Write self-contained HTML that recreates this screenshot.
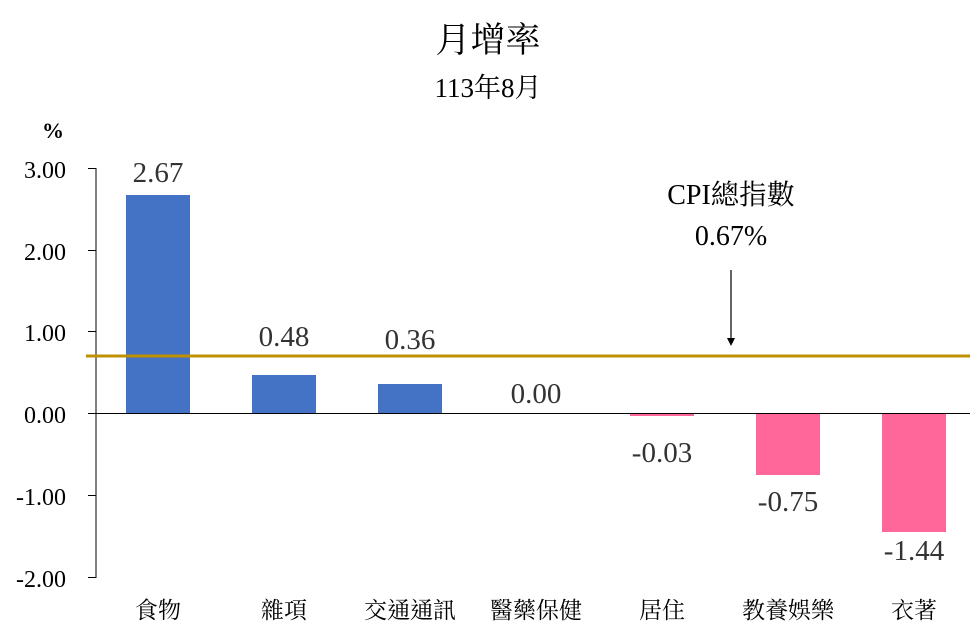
<!DOCTYPE html>
<html><head><meta charset="utf-8"><style>
html,body{margin:0;padding:0;background:#fff;}
</style></head><body>
<svg width="977" height="637" xmlns="http://www.w3.org/2000/svg" style="display:block">
<rect width="977" height="637" fill="#fff"/>
<g font-family="Liberation Serif, Noto Serif CJK SC, serif" fill="#000">
<text x="488" y="52" font-size="35" text-anchor="middle" font-family="Noto Serif CJK TC, serif">月增率</text>
<text x="488" y="97" font-size="27" text-anchor="middle">113<tspan font-family="Noto Serif CJK TC, serif">年</tspan>8<tspan font-family="Noto Serif CJK TC, serif">月</tspan></text>
<text x="53" y="138" font-size="22" text-anchor="middle" font-weight="bold">%</text>
<g font-size="24" text-anchor="end">
<text x="66" y="178">3.00</text>
<text x="66" y="260">2.00</text>
<text x="66" y="341">1.00</text>
<text x="66" y="423">0.00</text>
<text x="66" y="505">-1.00</text>
<text x="66" y="587">-2.00</text>
</g>
</g>
<line x1="96" y1="168" x2="96" y2="578" stroke="#000" stroke-width="1"/>
<g stroke="#000" stroke-width="1">
<line x1="88" y1="168.5" x2="96" y2="168.5"/><line x1="88" y1="250.5" x2="96" y2="250.5"/><line x1="88" y1="331.5" x2="96" y2="331.5"/><line x1="88" y1="413.5" x2="96" y2="413.5"/><line x1="88" y1="495.5" x2="96" y2="495.5"/><line x1="88" y1="577.5" x2="96" y2="577.5"/>
</g>
<rect x="126" y="195" width="64" height="218" fill="#4472C4"/>
<rect x="252" y="375" width="64" height="38" fill="#4472C4"/>
<rect x="378" y="384" width="64" height="29" fill="#4472C4"/>
<rect x="630" y="413" width="64" height="3" fill="#FF6699"/>
<rect x="756" y="413" width="64" height="62" fill="#FF6699"/>
<rect x="882" y="413" width="64" height="119" fill="#FF6699"/>
<line x1="96" y1="413.5" x2="970" y2="413.5" stroke="#000" stroke-width="1"/>
<line x1="86" y1="356" x2="970" y2="356" stroke="#BF9000" stroke-width="3"/>
<line x1="731" y1="270" x2="731" y2="340" stroke="#000" stroke-width="1.2"/>
<polygon points="727,338 735,338 731,346" fill="#000"/>
<g font-family="Liberation Serif, serif" font-size="29" fill="#333" text-anchor="middle">
<text x="158" y="182">2.67</text>
<text x="284" y="346">0.48</text>
<text x="410" y="349">0.36</text>
<text x="536" y="403">0.00</text>
<text x="662" y="462">-0.03</text>
<text x="788" y="511">-0.75</text>
<text x="914" y="560">-1.44</text>
</g>
<g font-family="Liberation Serif, Noto Serif CJK TC, serif" font-size="28" fill="#000" text-anchor="middle">
<text x="731" y="204">CPI<tspan font-family="Noto Serif CJK TC, serif">總指數</tspan></text>
<text x="731" y="245">0.67%</text>
</g>
<g font-family="Noto Serif CJK TC, serif" font-size="23" fill="#000" text-anchor="middle">
<text x="158" y="618">食物</text>
<text x="284" y="618">雜項</text>
<text x="410" y="618">交通通訊</text>
<text x="536" y="618">醫藥保健</text>
<text x="662" y="618">居住</text>
<text x="788" y="618">教養娛樂</text>
<text x="914" y="618">衣著</text>
</g>
</svg>
</body></html>
